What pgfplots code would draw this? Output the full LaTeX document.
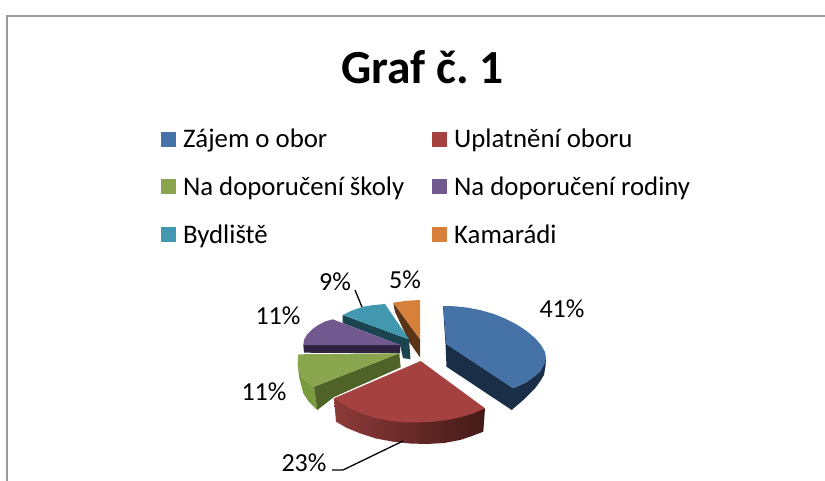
\documentclass[border=0pt]{standalone}
\usepackage{pgfplots}
\pgfplotsset{compat=1.18}
\usepackage{fontspec}
\setmainfont{Carlito}
\definecolor{cBlue}{HTML}{4572A7}
\definecolor{cBlueD}{HTML}{1B2E47}
\definecolor{cRed}{HTML}{A5423F}
\definecolor{cRedL}{HTML}{8D3A38}
\definecolor{cRedM}{HTML}{6B2B2A}
\definecolor{cRedR}{HTML}{431A18}
\definecolor{cGreen}{HTML}{89A54E}
\definecolor{cGreenD}{HTML}{4F6228}
\definecolor{cGreenM}{HTML}{7A9A3F}
\definecolor{cPurple}{HTML}{71588F}
\definecolor{cPurpleD}{HTML}{2E2340}
\definecolor{cTeal}{HTML}{4198AF}
\definecolor{cTealD}{HTML}{1A4450}
\definecolor{cOrange}{HTML}{D6803C}
\definecolor{cOrangeD}{HTML}{5A3416}
\definecolor{cFrame}{HTML}{9A9A9A}
\begin{document}
\begin{tikzpicture}
\path[use as bounding box] (0,0) rectangle (825pt,480pt);
\begin{axis}[
  at={(0,0)}, anchor=south west,
  hide axis, scale only axis, width=825pt, height=480pt,
  xmin=0, xmax=825, ymin=0, ymax=480, y dir=reverse, clip=true,
  legend columns=2,
  legend style={at={(axis cs:161,127)}, anchor=north west, draw=none, fill=none,
    inner sep=0pt, outer sep=0pt, font=\fontsize{26.8}{30}\selectfont,
    /tikz/column 1/.style={column sep=5pt},
    /tikz/column 2/.style={column sep=26pt},
    /tikz/column 3/.style={column sep=5pt},
    row sep=23.8pt, cells={anchor=west}},
  legend image code/.code={\fill[#1,draw=none] (0pt,-7.5pt) rectangle (15pt,7.5pt);},
]
% frame
\addplot[draw=cFrame, line width=2pt, forget plot] coordinates {(7,482) (7,16) (827,16)};
% blue slice
\addplot[fill=cBlueD, draw=none, forget plot] coordinates {(443,306) (444,306) (446.5,344) (513.3,388.3) (526.7,382) (540,371.7) (546,358.3) (545.5,366) (544,375) (540,381.5) (535,388.3) (523.3,400) (511.7,410) (446.5,366.7) (445.5,344)} -- cycle;
\addplot[fill=cBlue, draw=none, forget plot] coordinates {(443.3,306) (455,306.3) (466.7,307.5) (480,310) (493.3,313.8) (505,318.5) (516.7,324.5) (526,330.5) (535,338) (541,345) (545,352) (546,358.3) (544,365) (540,371.7) (534,377) (526.7,382) (513.3,388.3) (446,344)} -- cycle;
% orange slice
\addplot[fill=cOrangeD, draw=none, forget plot] coordinates {(393.3,302.7) (420,339.3) (420,357.3) (409,341.7) (395,311.7)} -- cycle;
\addplot[fill=cOrange, draw=none, forget plot] coordinates {(420,339.3) (420,300) (406.7,300.7) (393.3,302.7)} -- cycle;
% teal slice
\addplot[fill=cTealD, draw=none, forget plot] coordinates {(342.7,315) (409,339.3) (410.5,359.3) (403,358) (400,345) (342.7,323)} -- cycle;
\addplot[fill=cTeal, draw=none, forget plot] coordinates {(409,339.3) (385,304) (374,305) (363.3,306.7) (352,310.5) (342.7,315)} -- cycle;
% purple slice
\addplot[fill=cPurpleD, draw=none, forget plot] coordinates {(303.3,345) (400,345) (400,353.3) (304,352.7)} -- cycle;
\addplot[fill=cPurple, draw=none, forget plot] coordinates {(400,345) (332.7,319.3) (325,321.5) (318.3,325) (312,329.5) (306.7,335) (304,340) (303.3,345)} -- cycle;
% green slice
\addplot[fill=cGreenM, draw=none, forget plot] coordinates {(297.7,363.3) (299,376.7) (303.3,393.3) (309,402) (317.3,410) (314,386.7) (307,382) (301.7,376.7)} -- cycle;
\addplot[fill=cGreenD, draw=none, forget plot] coordinates {(314,386.7) (399.3,353.3) (400.7,367.3) (334,397) (317.3,410)} -- cycle;
\addplot[fill=cGreen, draw=none, forget plot] coordinates {(399.3,353.3) (298.3,354.3) (297.7,363.3) (299,370) (301.7,376.7) (307,382) (314,386.7)} -- cycle;
% red slice
\addplot[draw=none, left color=cRedL, middle color=cRedM, right color=cRedR, forget plot] coordinates {(334,398.3) (336,421.7) (347,428) (360,433.3) (376,438.5) (393.3,441.7) (410,443.5) (426.7,444) (444,443) (460,440) (472,436) (483.3,431.7) (485,408.3)} -- cycle;
\addplot[fill=cRed, draw=none, forget plot] coordinates {(420.7,361) (485,408.3) (473,413.5) (460,417.3) (447,420) (433.3,421.7) (418,422.5) (403.3,422.3) (390,420.8) (376.7,418.3) (364,414.5) (353.3,410) (343,404.5) (334,398.3)} -- cycle;
% leader lines
\addplot[black, line width=1.3pt, forget plot] coordinates {(355,290) (362,307)};
\addplot[black, line width=1.3pt, forget plot] coordinates {(332,470) (343,470) (403,441)};
% legend
\addlegendimage{fill=cBlue}\addlegendentry{Zájem o obor}
\addlegendimage{fill=cRed}\addlegendentry{Uplatnění oboru}
\addlegendimage{fill=cGreen}\addlegendentry{Na doporučení školy}
\addlegendimage{fill=cPurple}\addlegendentry{Na doporučení rodiny}
\addlegendimage{fill=cTeal}\addlegendentry{Bydliště}
\addlegendimage{fill=cOrange}\addlegendentry{Kamarádi}
% title and data labels
\node[font=\fontsize{47.5}{52}\selectfont\bfseries] at (axis cs:422.5,67) {Graf č.\ 1};
\node[font=\fontsize{26}{30}\selectfont] at (axis cs:562,309) {41\%};
\node[font=\fontsize{26}{30}\selectfont] at (axis cs:405,280) {5\%};
\node[font=\fontsize{26}{30}\selectfont] at (axis cs:335,282) {9\%};
\node[font=\fontsize{26}{30}\selectfont] at (axis cs:278,316) {11\%};
\node[font=\fontsize{26}{30}\selectfont] at (axis cs:264,392) {11\%};
\node[font=\fontsize{26}{30}\selectfont] at (axis cs:304,463) {23\%};
\end{axis}
\end{tikzpicture}
\end{document}
